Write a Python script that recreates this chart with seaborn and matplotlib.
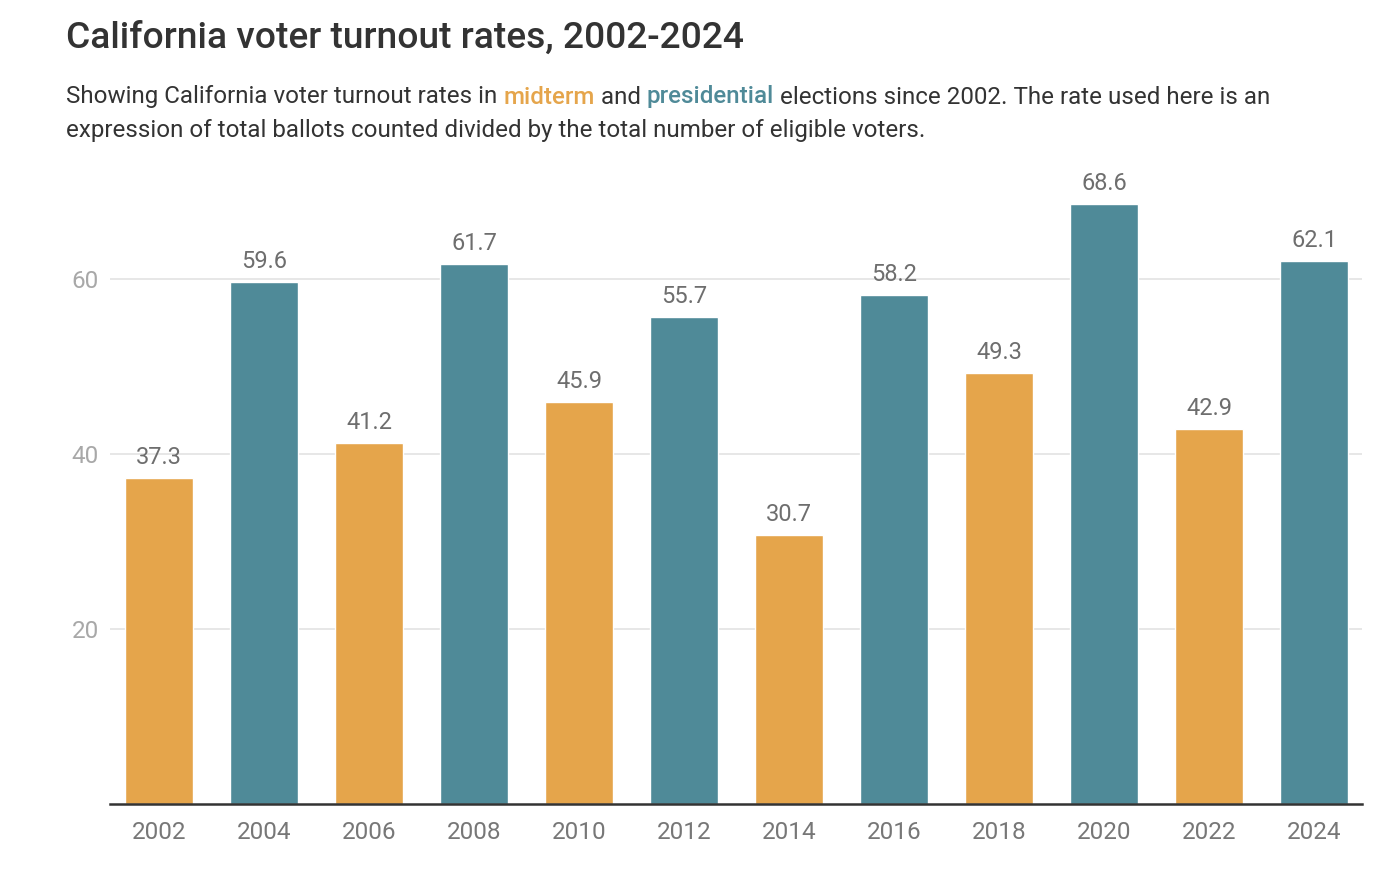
import matplotlib
matplotlib.use("Agg")
import matplotlib.pyplot as plt
import seaborn as sns
import pandas as pd

years = ["2002", "2004", "2006", "2008", "2010", "2012", "2014", "2016", "2018", "2020", "2022", "2024"]
turnout = [37.3, 59.6, 41.2, 61.7, 45.9, 55.7, 30.7, 58.2, 49.3, 68.6, 42.9, 62.1]
election = ["midterm", "presidential"] * 6

MIDTERM = "#e5a54b"
PRESIDENTIAL = "#4f8a98"
palette = {"midterm": MIDTERM, "presidential": PRESIDENTIAL}

df = pd.DataFrame({"year": years, "turnout": turnout, "election": election})

sns.set_style("white")
plt.rcParams["font.family"] = ["Roboto", "DejaVu Sans"]

fig = plt.figure(figsize=(13.98, 8.72), dpi=100)
ax = fig.add_axes([110 / 1398, 1 - 804 / 872, (1362 - 110) / 1398, (804 - 174) / 872])

sns.barplot(data=df, x="year", y="turnout", hue="election", palette=palette,
            dodge=False, width=0.648, legend=False, ax=ax, saturation=1)

ax.set_xlim(-0.467, 11.457)
ax.set_ylim(0, 72)
ax.set_yticks([20, 40, 60])
ax.yaxis.grid(True, color="#e3e3e3", linewidth=1.2)
ax.set_axisbelow(True)
ax.set_xlabel("")
ax.set_ylabel("")
for s in ["top", "right", "left"]:
    ax.spines[s].set_visible(False)
ax.spines["bottom"].set_color("#333333")
ax.spines["bottom"].set_linewidth(1.8)
ax.tick_params(axis="y", length=0, labelsize=17.5, labelcolor="#a8a8a8", pad=8)
ax.tick_params(axis="x", length=0, labelsize=17.5, labelcolor="#777777", pad=12)

for i, v in enumerate(turnout):
    ax.annotate(f"{v}", (i, v), xytext=(0, 6.5), textcoords="offset points",
                ha="center", va="bottom", fontsize=17, color="#6e6e6e")

# title and subtitle
fig.text(66 / 1398, 1 - 38 / 872, "California voter turnout rates, 2002-2024",
         fontsize=26.7, fontweight="medium", color="#333333", va="center", ha="left")

renderer = fig.canvas.get_renderer()
pieces = [("Showing California voter turnout rates in ", "#333333", "normal"),
          ("midterm", MIDTERM, "medium"),
          (" and ", "#333333", "normal"),
          ("presidential", PRESIDENTIAL, "medium"),
          (" elections since 2002. The rate used here is an", "#333333", "normal")]
x = 66
for txt, col, w in pieces:
    t = fig.text(x / 1398, 1 - 97 / 872, txt, fontsize=17.4, color=col,
                 fontweight=w, va="center", ha="left")
    x += t.get_window_extent(renderer).width
fig.text(66 / 1398, 1 - 131 / 872,
         "expression of total ballots counted divided by the total number of eligible voters.",
         fontsize=17.4, color="#333333", va="center", ha="left")

fig.savefig("out.png", dpi=100)
